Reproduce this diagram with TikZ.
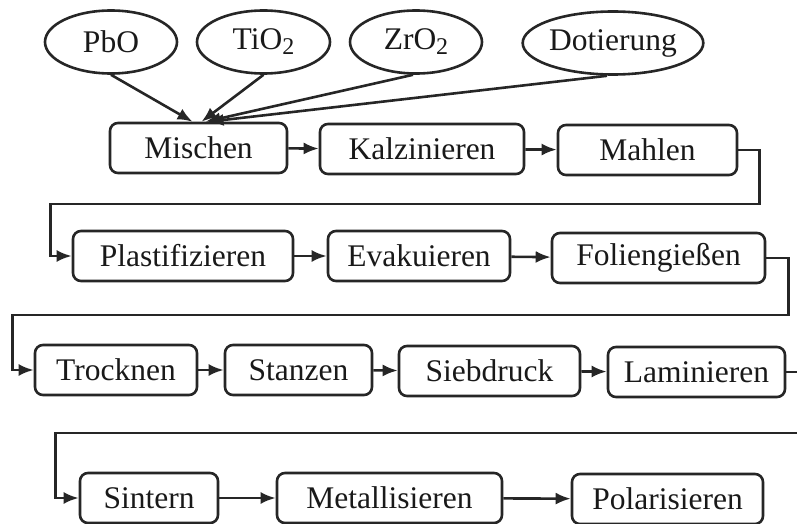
\documentclass[tikz,border=0pt]{standalone}
\usepackage{fontspec}
\setmainfont{Liberation Serif}
\usetikzlibrary{arrows.meta,shapes.geometric,calc}
\newcommand{\sbt}[1]{\raisebox{-0.35ex}{\fontsize{24}{24}\selectfont #1}}
\begin{document}
\begin{tikzpicture}[x=1pt,y=-1pt,
  every node/.style={font=\fontsize{31.5}{36}\selectfont, text=black!90},
  proc/.style={draw=black!85, line width=2.6pt, rounded corners=8pt, minimum height=50pt, inner sep=0pt},
  src/.style={draw=black!85, line width=2.6pt, ellipse, minimum height=63pt, inner sep=0pt},
  arr/.style={draw=black!85, line width=2.6pt, -{Latex[length=15pt,width=12pt]}},
  lnk/.style={draw=black!85, line width=2.6pt}]
\useasboundingbox (0,0) rectangle (797,524);
% sources
\node[src, minimum width=132pt] (pbo) at (111,42) {PbO};
\node[src, minimum width=133pt] (tio) at (263.5,42) {TiO\sbt{2}};
\node[src, minimum width=132pt] (zro) at (416,42) {ZrO\sbt{2}};
\node[src, minimum width=180pt] (dot) at (613,43) {Dotierung};
% row 1
\node[proc, minimum width=177pt] (mix) at (198.5,148) {Mischen};
\node[proc, minimum width=204pt] (kal) at (422,149) {Kalzinieren};
\node[proc, minimum width=179pt] (mah) at (647.5,150) {Mahlen};
% row 2
\node[proc, minimum width=220pt] (pla) at (183,256) {Plastifizieren};
\node[proc, minimum width=182pt] (eva) at (419,256) {Evakuieren};
\node[proc, minimum width=213pt] (fol) at (658.5,258) {Foliengießen};
% row 3
\node[proc, minimum width=162pt] (tro) at (116,370) {Trocknen};
\node[proc, minimum width=147pt] (sta) at (298.5,370) {Stanzen};
\node[proc, minimum width=181pt] (sie) at (489.5,371) {Siebdruck};
\node[proc, minimum width=177pt] (lam) at (696.5,372) {Laminieren};
% row 4
\node[proc, minimum width=138pt] (sin) at (149,498) {Sintern};
\node[proc, minimum width=225pt] (met) at (389.5,498) {Metallisieren};
\node[proc, minimum width=191pt] (pol) at (667.5,499) {Polarisieren};
% source arrows
\draw[arr] (pbo.south) -- ($(mix.north)+(-6,0)$);
\draw[arr] (tio.south) -- ($(mix.north)+(3,0)$);
\draw[arr] ($(zro.south)+(-3,0)$) -- ($(mix.north)+(7,0)$);
\draw[arr] ($(dot.south)+(-6,0)$) -- ($(mix.north)+(10,0)$);
% row arrows
\draw[arr] (mix) -- (kal);
\draw[arr] (kal) -- (mah);
\draw[arr] (pla) -- (eva);
\draw[arr] (eva) -- (fol);
\draw[arr] (tro) -- (sta);
\draw[arr] (sta) -- (sie);
\draw[arr] (sie) -- (lam);
\draw[arr] (sin) -- (met);
\draw[arr] (met) -- (pol);
% wrap connectors
\draw[arr] (mah.east) -- ++(21,0) -- ++(0,54) -| ($(pla.west)+(-21,0)$) -- (pla.west);
\draw[arr] (fol.east) -- ++(22,0) -- ++(0,57) -| ($(tro.west)+(-21,0)$) -- (tro.west);
\draw[arr] (lam.east) -- ++(30,0) -- ++(0,61) -| ($(sin.west)+(-23,0)$) -- (sin.west);
\end{tikzpicture}
\end{document}
